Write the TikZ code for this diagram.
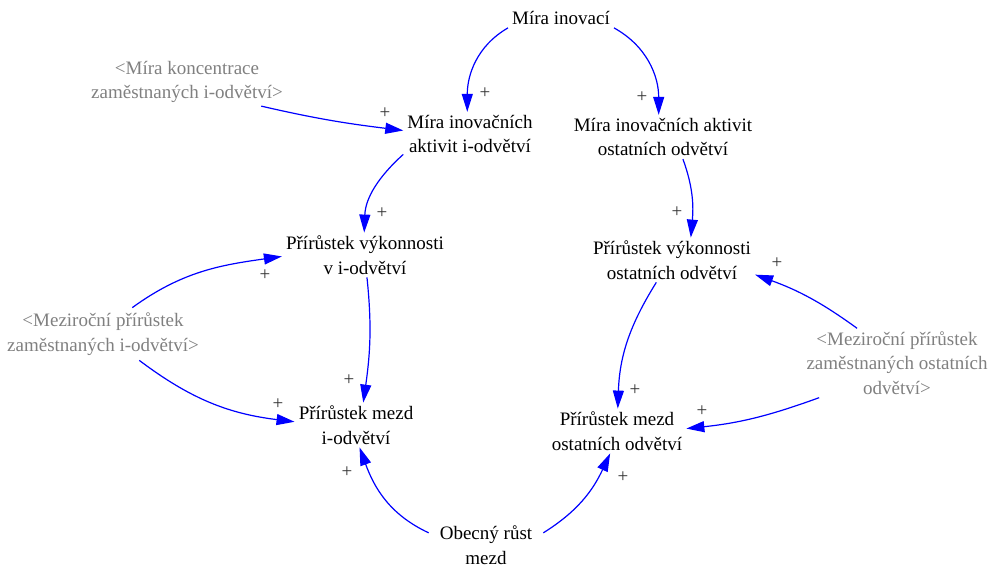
\documentclass[tikz,border=0pt]{standalone}
\usepackage{fontspec}
\setmainfont{Liberation Serif}
\usetikzlibrary{arrows.meta}
\definecolor{vblue}{RGB}{0,0,255}
\definecolor{shadowgray}{RGB}{128,128,128}
\begin{document}
\begin{tikzpicture}[x=1pt,y=1pt,
  var/.style={align=center, font=\fontsize{19}{24.5}\selectfont, inner xsep=4pt, inner ysep=3pt},
  shadowvar/.style={var, text=shadowgray},
  link/.style={draw=vblue, line width=1.2pt, -{Triangle[length=18pt,width=11pt]}},
  pol/.style={font=\fontsize{19}{24.5}\selectfont, text=black!80, inner sep=0pt}]
\useasboundingbox (0,0) rectangle (989,-567);

\node[var] (mi) at (561,-18) {Míra inovací};
\node[shadowvar] (mko) at (187,-82) {<Míra koncentrace\\zaměstnaných i-odvětví>};
\node[var] (mia) at (470,-134) {Míra inovačních\\aktivit i-odvětví};
\node[var] (mio) at (663,-137) {Míra inovačních aktivit\\ostatních odvětví};
\node[var] (pvi) at (365,-255) {Přírůstek výkonnosti\\v i-odvětví};
\node[var] (pvo) at (672,-260) {Přírůstek výkonnosti\\ostatních odvětví};
\node[shadowvar, inner ysep=5pt] (mzi) at (103,-334) {<Meziroční přírůstek\\zaměstnaných i-odvětví>};
\node[shadowvar] (mzo) at (897,-363) {<Meziroční přírůstek\\zaměstnaných ostatních\\odvětví>};
\node[var] (pmi) at (356,-425) {Přírůstek mezd\\i-odvětví};
\node[var] (pmo) at (617,-431) {Přírůstek mezd\\ostatních odvětví};
\node[var, inner xsep=11pt] (ors) at (486,-545) {Obecný růst\\mezd};

\draw[link] (mi.south west) to[out=210,in=90] (mia.97);
\draw[link] (mi.south east) to[out=331,in=90] (mio.101);
\draw[link] (mko.-18) to[out=-13,in=173] (mia.177);
\draw[link] (mia.197) to[out=222,in=88] (pvi.92);
\draw[link] (mio.-48) to[out=290,in=85] (pvo.50);
\draw[link] (mzi.42) to[out=36,in=188] (pvi.181);
\draw[link] (mzi.-36) to[out=-37,in=173] (pmi.177);
\draw[link] (pvi.-85) to[out=276,in=82] (pmi.72);
\draw[link] (pvo.235) to[out=238,in=88] (pmo.88);
\draw[link] (mzo.139) to[out=144,in=-20] (pvo.-10);
\draw[link] (mzo.204) to[out=200,in=6] (pmo.2.5);
\draw[link] (ors.168) to[out=155,in=-70] (pmi.-81);
\draw[link] (ors.12) to[out=32,in=245] (pmo.-107);

\node[pol] (p1) at (485,-93) {+};
\node[pol] (p2) at (642,-97) {+};
\node[pol] (p3) at (385,-113) {+};
\node[pol] (p4) at (382,-213) {+};
\node[pol] (p5) at (677,-212) {+};
\node[pol] (p6) at (265,-275) {+};
\node[pol] (p7) at (278,-404) {+};
\node[pol] (p8) at (349,-380) {+};
\node[pol] (p9) at (635,-390) {+};
\node[pol] (p10) at (777,-263) {+};
\node[pol] (p11) at (702,-411) {+};
\node[pol] (p12) at (347,-472) {+};
\node[pol] (p13) at (623,-477) {+};
\end{tikzpicture}
\end{document}
